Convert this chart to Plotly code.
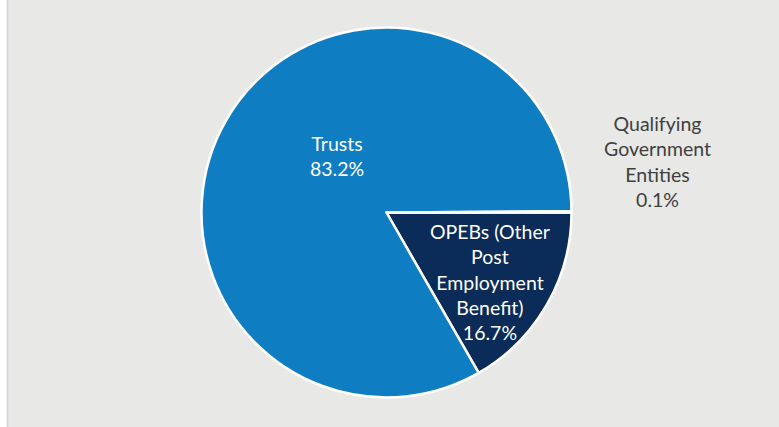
import plotly.graph_objects as go

labels = ["OPEBs (Other Post Employment Benefit)", "Trusts", "Qualifying Government Entities"]
values = [16.7, 83.2, 0.1]
colors = ["#0B2B58", "#0F7DC2", "#5B9BD5"]

W, H = 779, 427
cx, cy, r = 386.5, 212.5, 185

fig = go.Figure(go.Pie(
    labels=labels, values=values, sort=False, direction="clockwise", rotation=90,
    marker=dict(colors=colors, line=dict(color="white", width=2.5)),
    textinfo="none", hoverinfo="label+percent",
    domain=dict(x=[(cx - r) / W, (cx + r) / W], y=[(H - cy - r) / H, (H - cy + r) / H]),
    showlegend=False,
))

font = "Lato, Calibri, Carlito, sans-serif"
ann = [
    ("Trusts<br>83.2%", 337, 155.5, "white"),
    ("OPEBs (Other<br>Post<br>Employment<br>Benefit)<br>16.7%", 490, 281.5, "white"),
    ("Qualifying<br>Government<br>Entities<br>0.1%", 657, 161, "#404040"),
]
for text, x, y, c in ann:
    fig.add_annotation(text=text, x=x / W, y=1 - y / H, xref="paper", yref="paper",
                       xanchor="center", yanchor="middle", showarrow=False,
                       font=dict(family=font, size=19.5, color=c), align="center")

fig.add_shape(type="rect", xref="paper", yref="paper", x0=0, x1=7 / W, y0=0, y1=1,
              fillcolor="white", line=dict(width=0), layer="below")
fig.add_shape(type="line", xref="paper", yref="paper", x0=7.5 / W, x1=7.5 / W, y0=0, y1=1,
              line=dict(color="#d4d4d2", width=1.5), layer="below")

fig.update_layout(width=W, height=H, margin=dict(l=0, r=0, t=0, b=0),
                  paper_bgcolor="#E8E8E6", plot_bgcolor="#E8E8E6")
fig.write_html("out.html", config={"displayModeBar": False},
               post_script="document.body.style.margin='0';document.body.style.overflow='hidden';")
